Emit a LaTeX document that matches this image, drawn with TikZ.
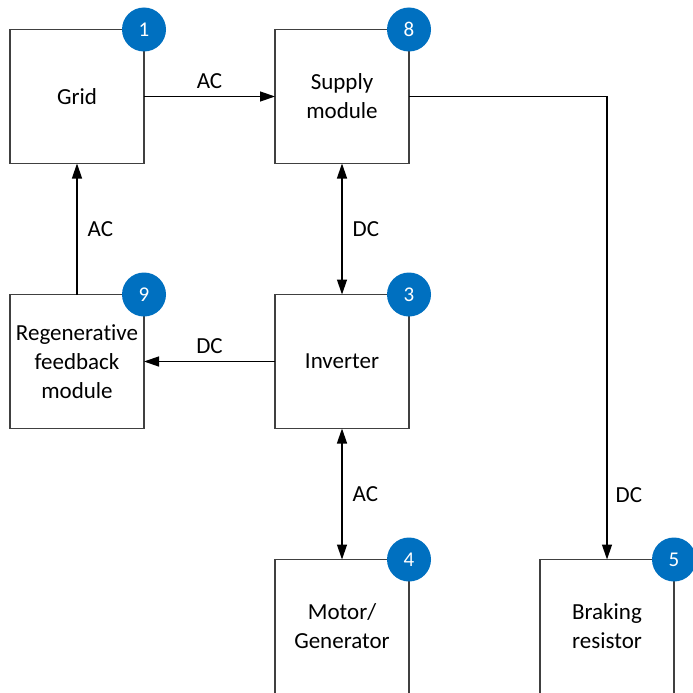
\documentclass[tikz,border=0pt]{standalone}
\usepackage{fontspec}
\setmainfont{Carlito}[Ligatures=CommonOff]
\usetikzlibrary{positioning,arrows.meta}
\definecolor{badgeblue}{RGB}{0,112,192}
\definecolor{boxgrey}{RGB}{64,64,64}
\tikzset{
  block/.style={draw=boxgrey,line width=1.5pt,fill=white,minimum width=134pt,minimum height=134pt,
    outer sep=0pt,align=center,inner sep=1pt,font=\fontsize{23}{29}\selectfont},
  badge/.style={circle,fill=badgeblue,text=white,minimum size=44pt,inner sep=0pt,
    font=\fontsize{21}{21}\selectfont},
  link/.style={line width=1.3pt,-{Triangle[length=15pt,width=10pt]}},
  twoway/.style={line width=1.3pt,{Triangle[length=15pt,width=10pt]}-{Triangle[length=15pt,width=10pt]}},
  lbl/.style={font=\fontsize{23}{23}\selectfont,inner sep=3pt}
}
\begin{document}
\begin{tikzpicture}[x=1pt,y=-1pt,node distance=131pt]
    \useasboundingbox (0,0) rectangle (693,693);

    % blocks
    \node[block] (grid) at (77,96.5) {Grid};
    \node[block,right=of grid] (supply) {Supply\\module};
    \node[block,below=of grid] (regen) {Regenerative\\feedback\\module};
    \node[block,below=of supply] (inv) {Inverter};
    \node[block,below=of inv] (motor) {Motor/\\Generator};
    \node[block,right=of motor] (brake) {Braking\\resistor};

    % connections
    \draw[link] (grid.east) -- node[lbl,above=4pt] (acgrid) {AC} (supply.west);
    \draw[twoway] (supply.south) -- node[lbl,right=7pt] (dcbus) {DC} (inv.north);
    \draw[link] (inv.west) -- node[lbl,above=4pt] (dcregen) {DC} (regen.east);
    \draw[link] (regen.north) -- node[lbl,right=7pt] (acregen) {AC} (grid.south);
    \draw[twoway] (inv.south) -- node[lbl,right=7pt] (acmotor) {AC} (motor.north);
    \draw[link] (supply.east) -| node[lbl,right=5pt,pos=0.93] (dcbrake) {DC} (brake.north);

    % numbered badges
    \node[badge] (b1) at (grid.north east) {1};
    \node[badge] (b8) at (supply.north east) {8};
    \node[badge] (b9) at (regen.north east) {9};
    \node[badge] (b3) at (inv.north east) {3};
    \node[badge] (b4) at (motor.north east) {4};
    \node[badge] (b5) at (brake.north east) {5};
\end{tikzpicture}
\end{document}
